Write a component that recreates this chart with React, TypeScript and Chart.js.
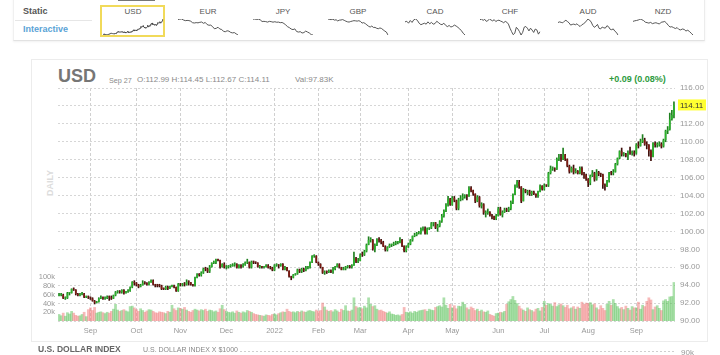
import React, { useEffect, useRef } from 'react';
import { Chart, registerables } from 'chart.js';

Chart.register(...registerables);

const FONT = '"Liberation Sans", Arial, Helvetica, sans-serif';

// ---- categories ----
const START_DATE = '2021-08-11';
const END_DATE = '2022-09-27';
const MONTHS = ['Jan', 'Feb', 'Mar', 'Apr', 'May', 'Jun', 'Jul', 'Aug', 'Sep', 'Oct', 'Nov', 'Dec'];

// ---- price series (daily) ----
const FIRST_OPEN = 92.85;
const closes = [
  // Aug 2021
  92.93, 92.93, 92.52, 92.57, 93.12, 93.14, 93.57, 93.5, 93.0, 92.86, 92.98, 93.06, 92.65, 92.67, 92.63,
  // Sep 2021
  92.52, 92.24, 92.03, 92.13, 92.53, 92.66, 92.5, 92.58, 92.67, 92.63, 92.5, 92.86, 93.2, 93.26, 93.21, 93.45, 93.09, 93.29, 93.36, 93.75, 94.36, 94.23,
  // Oct 2021
  94.04, 93.83, 94.0, 94.26, 94.21, 94.08, 94.31, 94.51, 94.08, 93.97, 93.96, 93.95, 93.58, 93.56, 93.78, 93.63, 93.88, 93.93, 93.79, 93.33, 94.12,
  // Nov 2021
  94.06, 94.11, 94.06, 94.35, 94.32, 94.07, 93.96, 94.84, 95.18, 95.12, 95.39, 95.83, 95.82, 95.53, 96.03, 96.5, 96.51, 96.87, 96.79, 96.03, 96.35, 95.99,
  // Dec 2021
  96.03, 96.14, 96.16, 96.28, 96.33, 95.95, 96.2, 96.07, 96.29, 96.53, 96.58, 95.98, 96.6, 96.53, 96.52, 96.03, 96.06, 96.02, 96.05, 96.19, 95.97, 95.95, 95.67,
  // Jan 2022
  96.22, 96.28, 96.19, 96.35, 95.74, 95.99, 95.63, 94.97, 94.83, 95.18, 95.27, 95.75, 95.54, 95.78, 95.64, 95.95, 96.02, 96.53, 97.25, 97.27, 96.54,
  // Feb 2022
  96.36, 96.02, 95.38, 95.47, 95.45, 95.62, 95.5, 95.81, 96.05, 96.32, 96.0, 95.73, 95.84, 96.05, 96.09, 96.02, 96.18, 97.01, 96.62, 96.71,
  // Mar 2022
  97.41, 97.39, 97.77, 98.51, 99.05, 99.07, 97.99, 98.51, 99.12, 99.0, 98.79, 98.32, 97.93, 98.24, 98.49, 98.5, 98.64, 98.79, 98.79, 99.03, 98.4, 97.8, 98.31,
  // Apr 2022
  98.56, 99.01, 99.48, 99.61, 99.8, 99.82, 100.29, 100.3, 99.77, 100.33, 100.33, 100.9, 101.0, 100.38, 100.63, 101.12, 101.73, 102.31, 102.96, 103.63, 102.96,
  // May 2022
  103.74, 103.46, 102.56, 103.55, 103.66, 103.89, 103.92, 103.9, 104.85, 104.56, 104.19, 103.35, 103.83, 102.85, 103.03, 102.07, 102.07, 102.13, 101.81, 101.66, 101.42, 101.75,
  // Jun 2022
  102.55, 101.84, 102.15, 102.42, 102.34, 102.54, 103.26, 104.15, 105.07, 105.51, 105.0, 103.35, 104.66, 104.41, 104.45, 104.17, 104.41, 104.21, 103.94, 104.44, 105.1, 104.69,
  // Jul 2022
  105.14, 105.13, 106.51, 107.01, 107.03, 106.9, 108.08, 108.25, 108.03, 108.58, 108.05, 107.31, 106.67, 107.07, 106.59, 106.73, 106.46, 107.08, 106.42, 106.26, 105.84,
  // Aug 2022
  105.41, 106.22, 106.5, 105.78, 106.62, 106.38, 106.35, 105.2, 105.1, 105.63, 106.54, 106.48, 106.64, 107.5, 108.15, 108.94, 108.57, 108.6, 108.48, 108.8, 108.77, 108.79, 108.7,
  // Sep 2022
  109.67, 109.54, 110.02, 110.22, 109.72, 109.66, 109.01, 108.3, 109.83, 109.65, 109.68, 109.76, 109.48, 110.19, 111.22, 111.36, 112.5, 112.99, 114.11,
];

const highs = [
  93.1, 93.1, 93.0, 92.7, 93.2, 93.2, 93.6, 93.7, 93.5, 93.1, 93.1, 93.2, 93.1, 92.8, 92.8,
  92.7, 92.6, 92.3, 92.2, 92.6, 92.8, 92.7, 92.7, 92.8, 92.8, 92.8, 92.9, 93.3, 93.4, 93.4, 93.5, 93.5, 93.3, 93.5, 93.8, 94.4, 94.5,
  94.3, 94.1, 94.1, 94.5, 94.4, 94.3, 94.4, 94.6, 94.6, 94.1, 94.1, 94.1, 94.0, 93.7, 93.9, 93.9, 93.9, 94.0, 94.0, 93.8, 94.2,
  94.2, 94.2, 94.3, 94.6, 94.5, 94.3, 94.1, 94.9, 95.3, 95.3, 95.5, 95.9, 96.0, 95.9, 96.2, 96.5, 96.7, 96.9, 96.9, 96.8, 96.4, 96.5,
  96.2, 96.2, 96.3, 96.4, 96.5, 96.4, 96.3, 96.3, 96.4, 96.6, 96.9, 96.6, 96.7, 96.7, 96.6, 96.5, 96.2, 96.1, 96.1, 96.3, 96.3, 96.1, 96.0,
  96.3, 96.4, 96.3, 96.4, 96.4, 96.1, 96.0, 95.6, 95.0, 95.2, 95.3, 95.8, 95.8, 95.9, 95.9, 96.1, 96.1, 96.6, 97.3, 97.4, 97.3,
  96.6, 96.4, 96.0, 95.6, 95.6, 95.7, 95.7, 96.0, 96.1, 96.4, 96.4, 96.0, 96.0, 96.1, 96.2, 96.2, 96.3, 97.7, 97.1, 97.0,
  97.5, 97.7, 97.9, 98.6, 99.4, 99.3, 99.1, 98.6, 99.2, 99.3, 99.1, 98.9, 98.4, 98.3, 98.6, 98.6, 98.8, 98.9, 98.9, 99.3, 99.1, 98.4, 98.4,
  98.7, 99.1, 99.5, 99.8, 99.9, 100.0, 100.4, 100.5, 100.5, 100.4, 100.4, 101.0, 101.0, 101.0, 100.8, 101.2, 101.9, 102.4, 103.1, 103.9, 103.7,
  103.9, 103.9, 103.5, 103.7, 104.0, 104.2, 104.1, 104.1, 105.0, 105.0, 104.6, 104.2, 104.0, 103.9, 103.2, 103.1, 102.3, 102.5, 102.2, 101.9, 101.7, 101.9,
  102.7, 102.7, 102.3, 102.6, 102.6, 102.7, 103.4, 104.2, 105.2, 105.7, 105.7, 105.0, 104.8, 104.7, 104.6, 104.6, 104.5, 104.5, 104.2, 104.5, 105.2, 105.1,
  105.3, 105.2, 106.6, 107.3, 107.2, 107.1, 108.2, 108.6, 108.6, 109.3, 108.6, 108.1, 107.4, 107.2, 107.4, 107.0, 106.8, 107.2, 107.2, 106.6, 106.4,
  105.9, 106.3, 106.8, 106.6, 106.9, 106.7, 106.5, 106.4, 105.3, 105.7, 106.6, 106.7, 106.9, 107.6, 108.2, 109.0, 109.3, 108.8, 108.7, 109.0, 109.4, 109.0, 109.0,
  109.8, 110.0, 110.3, 110.8, 110.4, 110.0, 109.7, 109.1, 109.9, 110.0, 109.9, 110.0, 109.9, 110.3, 111.3, 111.7, 113.2, 113.5, 114.45,
];

const lows = [
  92.8, 92.8, 92.5, 92.4, 92.5, 92.9, 93.1, 93.4, 92.9, 92.8, 92.8, 92.9, 92.6, 92.6, 92.5,
  92.4, 92.2, 91.9, 92.0, 92.1, 92.5, 92.4, 92.4, 92.5, 92.3, 92.4, 92.5, 92.8, 93.1, 93.1, 93.1, 93.0, 93.1, 93.2, 93.3, 93.7, 94.0,
  93.9, 93.7, 93.8, 94.0, 94.1, 94.0, 94.0, 94.3, 94.0, 93.8, 93.8, 93.8, 93.5, 93.5, 93.5, 93.5, 93.6, 93.8, 93.7, 93.3, 93.3,
  93.9, 93.9, 93.9, 94.0, 94.0, 94.0, 93.9, 93.9, 94.8, 95.0, 95.0, 95.3, 95.6, 95.4, 95.4, 96.0, 96.4, 96.4, 96.7, 95.9, 96.0, 95.9,
  95.8, 95.9, 96.0, 96.1, 96.1, 95.9, 95.9, 95.9, 96.0, 96.2, 96.4, 95.9, 95.9, 96.4, 96.4, 96.0, 95.9, 95.9, 95.9, 96.0, 95.9, 95.8, 95.6,
  95.6, 96.1, 95.9, 96.1, 95.7, 95.7, 95.6, 94.9, 94.6, 94.8, 95.1, 95.2, 95.4, 95.4, 95.5, 95.6, 95.8, 95.9, 96.5, 97.1, 96.5,
  96.2, 95.9, 95.3, 95.2, 95.3, 95.4, 95.4, 95.3, 95.7, 96.0, 95.9, 95.7, 95.7, 95.7, 95.9, 95.9, 95.9, 96.2, 96.5, 96.5,
  96.7, 97.2, 97.3, 97.7, 98.5, 98.8, 97.9, 97.7, 98.4, 98.8, 98.6, 98.3, 97.8, 97.8, 98.2, 98.3, 98.4, 98.5, 98.6, 98.7, 98.3, 97.7, 97.7,
  98.2, 98.5, 98.9, 99.4, 99.5, 99.7, 99.7, 100.1, 99.7, 99.7, 100.2, 100.3, 100.6, 100.3, 100.0, 100.5, 101.0, 101.6, 102.2, 102.8, 102.9,
  102.9, 103.3, 102.4, 102.4, 103.4, 103.5, 103.7, 103.5, 103.9, 104.4, 104.0, 103.2, 103.3, 102.7, 102.6, 101.9, 101.6, 101.9, 101.7, 101.4, 101.3, 101.3,
  101.7, 101.8, 101.6, 102.1, 102.2, 102.2, 102.4, 103.1, 104.1, 104.9, 104.8, 103.2, 103.4, 104.3, 104.1, 104.0, 104.0, 104.1, 103.8, 103.8, 104.4, 104.6,
  104.6, 105.0, 105.0, 106.4, 106.8, 106.7, 106.9, 107.9, 107.8, 108.0, 107.9, 107.2, 106.5, 106.6, 106.4, 106.5, 106.4, 106.4, 106.3, 105.9, 105.7,
  105.0, 105.2, 106.1, 105.6, 105.7, 106.2, 106.1, 104.8, 104.6, 105.0, 105.5, 106.3, 106.3, 106.6, 107.4, 108.1, 108.4, 108.4, 108.3, 108.0, 108.6, 108.5, 108.4,
  108.6, 109.3, 109.5, 109.9, 109.6, 109.2, 108.4, 107.9, 108.3, 109.4, 109.4, 109.5, 109.3, 109.4, 110.0, 110.9, 111.3, 112.4, 112.67,
];

// volume in thousands
const volumes = [
  15, 12, 18, 11, 19, 16, 22, 18, 13, 11, 12, 15, 20, 10, 26,
  30, 24, 31, 18, 20, 21, 19, 17, 20, 18, 22, 27, 38, 25, 22, 24, 26, 23, 21, 33, 34, 30,
  26, 22, 28, 24, 20, 23, 26, 25, 22, 19, 18, 21, 20, 19, 17, 22, 20, 36, 28, 24, 30,
  29, 27, 31, 25, 22, 20, 24, 27, 25, 23, 26, 24, 27, 22, 25, 24, 21, 23, 20, 28, 36, 26,
  22, 20, 19, 21, 18, 23, 20, 18, 21, 19, 24, 22, 20, 17, 15, 14, 13, 12, 11, 14, 13, 12, 15,
  16, 14, 17, 19, 21, 20, 27, 22, 20, 21, 19, 22, 20, 23, 21, 20, 23, 24, 22, 21, 25,
  22, 24, 41, 32, 25, 22, 24, 21, 26, 23, 20, 27, 24, 35, 23, 22, 25, 53, 33, 30,
  31, 28, 34, 30, 53, 38, 33, 35, 27, 24, 25, 22, 20, 18, 21, 16, 15, 13, 14, 12, 15, 31, 20,
  19, 21, 18, 22, 20, 23, 24, 25, 26, 22, 27, 25, 24, 31, 33, 35, 32, 53, 36, 29, 38,
  30, 35, 28, 34, 33, 43, 38, 30, 26, 32, 29, 24, 27, 22, 25, 21, 20, 23, 15, 13, 11, 17,
  18, 20, 19, 22, 38, 44, 49, 56, 47, 40, 34, 28, 25, 22, 30, 26, 24, 21, 27, 29, 23, 31,
  45, 36, 40, 38, 34, 42, 33, 37, 39, 35, 31, 36, 28, 30, 33, 27, 32, 29, 43, 38, 41,
  40, 42, 37, 39, 30, 26, 35, 29, 24, 38, 45, 36, 49, 40, 33, 28, 31, 26, 34, 29, 25, 33, 30,
  30, 43, 27, 36, 33, 45, 53, 48, 26, 32, 35, 29, 24, 46, 49, 45, 55, 56, 88,
];

// ---- axis settings ----
const PRICE_MIN = 90;
const PRICE_MAX = 116;
const PRICE_STEP = 2;
const VOL_MAX = 532;
const VOL_STEP = 20;
const VOL_LABEL_MAX = 100;

// ---- header strip sparklines ----
const sparkEUR = [1.174, 1.179, 1.181, 1.168, 1.159, 1.162, 1.16, 1.152, 1.132, 1.128, 1.133, 1.13, 1.137, 1.141, 1.124, 1.135, 1.108, 1.098, 1.1, 1.081, 1.052, 1.057, 1.072, 1.048, 1.043, 1.018, 1.012, 1.025, 1.02, 1.003, 0.997, 1.001, 0.984, 0.969];
const sparkJPY = [0.909, 0.912, 0.905, 0.91, 0.9, 0.878, 0.88, 0.877, 0.87, 0.88, 0.876, 0.869, 0.875, 0.868, 0.87, 0.862, 0.865, 0.851, 0.832, 0.808, 0.795, 0.776, 0.768, 0.778, 0.742, 0.735, 0.74, 0.722, 0.728, 0.748, 0.735, 0.722, 0.7, 0.695];
const sparkGBP = [1.387, 1.378, 1.376, 1.383, 1.366, 1.372, 1.351, 1.365, 1.368, 1.376, 1.362, 1.346, 1.334, 1.329, 1.34, 1.348, 1.356, 1.352, 1.347, 1.355, 1.342, 1.31, 1.318, 1.3, 1.275, 1.251, 1.235, 1.254, 1.228, 1.229, 1.212, 1.203, 1.218, 1.208, 1.183, 1.16, 1.14, 1.085];
const sparkCAD = [0.797, 0.8, 0.79, 0.804, 0.794, 0.808, 0.812, 0.805, 0.79, 0.782, 0.786, 0.79, 0.785, 0.797, 0.787, 0.794, 0.785, 0.788, 0.8, 0.793, 0.785, 0.782, 0.79, 0.779, 0.772, 0.778, 0.77, 0.773, 0.78, 0.775, 0.768, 0.76, 0.75, 0.737, 0.728];
const sparkCHF = [1.09, 1.093, 1.086, 1.092, 1.08, 1.085, 1.094, 1.088, 1.083, 1.09, 1.079, 1.085, 1.087, 1.082, 1.078, 1.072, 1.08, 1.075, 1.064, 1.04, 1.02, 1.002, 1.01, 1.045, 1.035, 1.02, 1.0, 1.015, 1.046, 1.05, 1.04, 1.024, 1.04, 1.029, 1.015, 1.035, 1.03, 1.005, 1.02];
const sparkAUD = [0.73, 0.734, 0.731, 0.728, 0.738, 0.744, 0.736, 0.728, 0.714, 0.718, 0.72, 0.716, 0.722, 0.712, 0.705, 0.715, 0.721, 0.728, 0.74, 0.752, 0.745, 0.733, 0.712, 0.7, 0.707, 0.718, 0.694, 0.69, 0.702, 0.697, 0.695, 0.71, 0.704, 0.688, 0.685, 0.69, 0.676, 0.668, 0.652];
const sparkNZD = [0.695, 0.7, 0.703, 0.707, 0.716, 0.71, 0.702, 0.688, 0.684, 0.68, 0.686, 0.675, 0.68, 0.683, 0.677, 0.672, 0.688, 0.69, 0.694, 0.68, 0.66, 0.645, 0.648, 0.64, 0.632, 0.64, 0.624, 0.62, 0.628, 0.624, 0.61, 0.617, 0.606, 0.59, 0.575];

const THUMB_NAMES = ['USD', 'EUR', 'JPY', 'GBP', 'CAD', 'CHF', 'AUD', 'NZD'];
const THUMB_CENTERS = [133, 208, 283, 358, 435, 510, 588, 663];
const THUMB_DATA = [closes, sparkEUR, sparkJPY, sparkGBP, sparkCAD, sparkCHF, sparkAUD, sparkNZD];

// ---- colours ----
const UP_BODY = '#2db32d';
const DOWN_BODY = '#7e1b13';
const UP_WICK = '#1f7f1f';
const DOWN_WICK = '#3e0d09';
const UP_VOL = 'rgba(80,190,80,0.48)';
const DOWN_VOL = 'rgba(240,115,115,0.5)';

function tradingDays(start: string, end: string): Date[] {
  const out: Date[] = [];
  const d = new Date(start + 'T00:00:00Z');
  const e = new Date(end + 'T00:00:00Z');
  while (d <= e) {
    const wd = d.getUTCDay();
    if (wd !== 0 && wd !== 6) out.push(new Date(d.getTime()));
    d.setUTCDate(d.getUTCDate() + 1);
  }
  return out;
}

function Spark({ data, left, top, width, height }: any) {
  const ref = useRef<HTMLCanvasElement | null>(null);
  useEffect(() => {
    if (!ref.current) return;
    const values = data.slice();
    const lo = Math.min(...values);
    const hi = Math.max(...values);
    const chart = new Chart(ref.current, {
      type: 'line',
      data: {
        labels: values.map((_: number, i: number) => String(i)),
        datasets: [{ data: values, borderColor: '#444', borderWidth: 0.9, pointRadius: 0, tension: 0, fill: false }],
      },
      options: {
        animation: false,
        responsive: false,
        devicePixelRatio: 1,
        events: [],
        layout: { padding: 1 },
        plugins: { legend: { display: false }, tooltip: { enabled: false } },
        scales: {
          x: { display: false, offset: false },
          y: { display: false, min: lo, max: hi, beginAtZero: false },
        },
      },
    } as any);
    return () => chart.destroy();
  }, [data]);
  return <canvas ref={ref} width={width} height={height} style={{ position: 'absolute', left, top, width, height }} />;
}

const lastPricePlugin = {
  id: 'lastPrice',
  afterDraw(chart: any) {
    const last = closes[closes.length - 1];
    const y = chart.scales.y.getPixelForValue(last);
    const x0 = chart.chartArea.right + 3;
    const ctx = chart.ctx;
    ctx.save();
    ctx.fillStyle = '#ffff30';
    ctx.fillRect(x0, y - 5.5, 28, 11);
    ctx.fillStyle = '#333';
    ctx.font = '8px ' + FONT;
    ctx.textBaseline = 'middle';
    ctx.textAlign = 'left';
    ctx.fillText(last.toFixed(2), x0 + 2, y + 0.5);
    ctx.restore();
  },
};

export default function App() {
  const canvasRef = useRef<HTMLCanvasElement | null>(null);

  useEffect(() => {
    document.body.style.margin = '0';
    if (!canvasRef.current) return;
    const days = tradingDays(START_DATE, END_DATE);
    const labels = days.map((d) => d.toISOString().slice(0, 10));
    const tickText = days.map((d, i) => {
      if (i === 0 || d.getUTCMonth() === days[i - 1].getUTCMonth()) return null;
      return d.getUTCMonth() === 0 ? String(d.getUTCFullYear()) : MONTHS[d.getUTCMonth()];
    });
    const opens = closes.map((c, i) => (i === 0 ? FIRST_OPEN : closes[i - 1]));
    const up = closes.map((c, i) => c >= opens[i]);
    const last = closes[closes.length - 1];

    const chart = new Chart(canvasRef.current, {
      type: 'bar',
      data: {
        labels,
        datasets: [
          {
            label: 'body',
            data: closes.map((c, i) => [opens[i], c]),
            backgroundColor: up.map((u) => (u ? UP_BODY : DOWN_BODY)),
            borderWidth: 0,
            barPercentage: 0.78,
            categoryPercentage: 1,
            minBarLength: 1,
            grouped: false,
            yAxisID: 'y',
            order: 1,
          },
          {
            label: 'wick',
            data: highs.map((h, i) => [lows[i], h]),
            backgroundColor: up.map((u) => (u ? UP_WICK : DOWN_WICK)),
            borderWidth: 0,
            barThickness: 1,
            grouped: false,
            yAxisID: 'y',
            order: 2,
          },
          {
            label: 'volume',
            data: volumes,
            backgroundColor: up.map((u) => (u ? UP_VOL : DOWN_VOL)),
            borderWidth: 0,
            barPercentage: 1,
            categoryPercentage: 1,
            grouped: false,
            yAxisID: 'yv',
            order: 3,
          },
        ],
      },
      options: {
        animation: false,
        responsive: false,
        devicePixelRatio: 1,
        events: [],
        layout: { padding: { top: 88, left: 0, right: 0, bottom: 0 } },
        plugins: { legend: { display: false }, tooltip: { enabled: false } },
        scales: {
          x: {
            type: 'category',
            offset: true,
            grid: { display: true, offset: false, color: '#d0d0d0', drawTicks: false, lineWidth: 1 },
            border: { display: false, dash: [3, 2] },
            ticks: {
              autoSkip: false,
              maxRotation: 0,
              minRotation: 0,
              padding: 5,
              color: '#999',
              font: { size: 7.5, family: FONT },
              callback: (_v: any, i: number) => tickText[i],
            },
            afterFit: (s: any) => {
              s.height = 34;
            },
          },
          y: {
            position: 'right',
            min: PRICE_MIN,
            max: PRICE_MAX,
            grid: { color: '#d6d6d6', drawTicks: false, lineWidth: 1 },
            border: { display: false, dash: [2, 2] },
            ticks: {
              stepSize: PRICE_STEP,
              padding: 5,
              color: '#999',
              font: { size: 8, family: FONT },
              callback: (v: any) => (Math.abs(Number(v) - last) < 1.2 ? '' : Number(v).toFixed(2)),
            },
            afterFit: (s: any) => {
              s.width = 45;
            },
          },
          yv: {
            position: 'left',
            min: 0,
            max: VOL_MAX,
            grid: { display: false, drawTicks: false },
            border: { display: false },
            ticks: {
              stepSize: VOL_STEP,
              padding: 3,
              color: '#999',
              font: { size: 7.5, family: FONT },
              callback: (v: any) => (Number(v) > 0 && Number(v) <= VOL_LABEL_MAX ? v + 'k' : null),
            },
            afterFit: (s: any) => {
              s.width = 58;
            },
          },
        },
      },
      plugins: [lastPricePlugin],
    } as any);
    return () => chart.destroy();
  }, []);

  const n = closes.length;
  const lastOpen = closes[n - 2];

  const text = (style: any, content: any) => (
    <div style={{ position: 'absolute', whiteSpace: 'nowrap', lineHeight: 1, fontFamily: FONT, ...style }}>{content}</div>
  );

  return (
    <div style={{ position: 'absolute', left: 0, top: 0, width: 720, height: 355, overflow: 'hidden', background: '#fff' }}>
      {/* top selector strip */}
      <div style={{ position: 'absolute', left: 13, top: -2, width: 690, height: 42, background: '#fff', borderBottom: '1px solid #e2e2e2', borderRight: '1px solid #ececec', borderLeft: '1px solid #f0f0f0', boxShadow: '0 1px 2px rgba(0,0,0,0.06)' }} />
      <div style={{ position: 'absolute', left: 118, top: -1, width: 37, height: 2, background: '#777' }} />
      {text({ left: 23, top: 6.5, fontSize: 9, fontWeight: 600, color: '#555' }, 'Static')}
      <div style={{ position: 'absolute', left: 15, top: 20, width: 77, height: 1, background: '#e6e6e6' }} />
      {text({ left: 23, top: 24.5, fontSize: 9, fontWeight: 600, color: '#5aa3d6' }, 'Interactive')}
      <div style={{ position: 'absolute', left: 100, top: 5, width: 65, height: 32, boxSizing: 'border-box', border: '2px solid #f1da5a' }} />
      {THUMB_NAMES.map((name, i) => (
        <React.Fragment key={name}>
          {text({ left: THUMB_CENTERS[i] - 20, width: 40, textAlign: 'center', top: 8, fontSize: 8, color: '#555' }, name)}
          <Spark data={THUMB_DATA[i]} left={THUMB_CENTERS[i] - 31} top={18} width={62} height={18} />
        </React.Fragment>
      ))}

      {/* main card */}
      <div style={{ position: 'absolute', left: 31, top: 59, width: 677, height: 283, boxSizing: 'border-box', border: '1px solid #ececec' }} />
      {text({ left: 58, top: 66.5, fontSize: 18, fontWeight: 700, color: '#767676' }, 'USD')}
      {text({ left: 109, top: 76.5, fontSize: 7.2, color: '#8a8a8a' }, 'Sep 27')}
      {text({ left: 137, top: 76, fontSize: 8, color: '#8a8a8a' }, `O:${lastOpen.toFixed(2)} H:${highs[n - 1].toFixed(2)} L:${lows[n - 1].toFixed(2)} C:${closes[n - 1].toFixed(2)}`)}
      {text({ left: 295, top: 76, fontSize: 8, color: '#8a8a8a' }, 'Val:97.83K')}
      {text({ left: 609, top: 74.5, fontSize: 9, fontWeight: 700, color: '#2e9b3e' }, '+0.09 (0.08%)')}
      <div style={{ position: 'absolute', left: 35, top: 178, width: 30, height: 10, transform: 'rotate(-90deg)', fontFamily: FONT, fontSize: 9, fontWeight: 700, color: '#dcdcdc', textAlign: 'center', lineHeight: '10px' }}>DAILY</div>

      <canvas ref={canvasRef} width={720} height={355} style={{ position: 'absolute', left: 0, top: 0, width: 720, height: 355 }} />

      {/* next panel (cut off) */}
      <div style={{ position: 'absolute', left: 240, top: 351, width: 435, height: 1, backgroundImage: 'linear-gradient(to right, #cfcfcf 50%, transparent 50%)', backgroundSize: '4px 1px' }} />
      {text({ left: 38, top: 345, fontSize: 8.5, fontWeight: 700, color: '#666' }, 'U.S. DOLLAR INDEX')}
      {text({ left: 143, top: 345.5, fontSize: 7, color: '#888' }, 'U.S. DOLLAR INDEX X $1000')}
      {text({ left: 681, top: 349, fontSize: 8, color: '#999' }, '90k')}
    </div>
  );
}
